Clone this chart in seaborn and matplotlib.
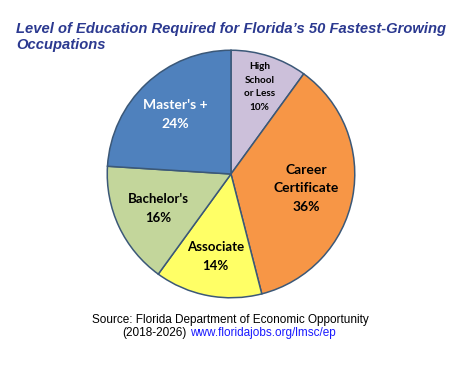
import numpy as np
import matplotlib.pyplot as plt
import seaborn as sns

# education level shares, clockwise from 12 o'clock
levels = ["High\nSchool\nor Less", "Career\nCertificate", "Associate", "Bachelor's", "Master's +"]
shares = [10, 36, 14, 16, 24]
colors = ["#CCC0DA", "#F79646", "#FFFF66", "#C3D69B", "#4F81BD"]
label_colors = ["black", "black", "black", "black", "white"]
label_sizes = [7.2, 10, 9.5, 9.5, 10]
label_dist = [0.74, 0.62, 0.68, 0.65, 0.66]

sns.set_style("white")
plt.rcParams["font.family"] = ["Liberation Sans", "DejaVu Sans"]

fig = plt.figure(figsize=(4.76, 3.69), dpi=100)
W, H = 476, 369
cx, cy, r = 231, 174, 125
ax = fig.add_axes([(cx - r) / W, (H - cy - r) / H, 2 * r / W, 2 * r / H])

wedges, _ = ax.pie(shares, colors=colors, startangle=90, counterclock=False,
                   wedgeprops=dict(edgecolor="#3B5878", linewidth=1.1))
ax.set_xlim(-1.01, 1.01)
ax.set_ylim(-1.01, 1.01)
ax.axis("off")

for w, lab, pct, c, fs, d in zip(wedges, levels, shares, label_colors, label_sizes, label_dist):
    ang = np.deg2rad((w.theta1 + w.theta2) / 2)
    ax.text(d * np.cos(ang), d * np.sin(ang), f"{lab}\n{pct}%", ha="center", va="center",
            color=c, fontsize=fs, fontweight="bold", family=["Lato", "DejaVu Sans"],
            linespacing=1.65)

fig.text(16 / W, 1 - 22 / H,
         "Level of Education Required for Florida\u2019s 50 Fastest-Growing\nOccupations",
         ha="left", va="top", fontsize=10.6, fontweight="bold", fontstyle="italic",
         color="#2B3990", linespacing=1.15)

fig.text(230 / W, 1 - 320 / H, "Source: Florida Department of Economic Opportunity",
         ha="center", va="center", fontsize=8.5, color="black")
fig.text(187 / W, 1 - 333 / H, "(2018-2026)", ha="right", va="center", fontsize=8.5, color="black")
fig.text(190 / W, 1 - 333 / H, "www.floridajobs.org/lmsc/ep", ha="left", va="center",
         fontsize=8.5, color="#1A1AFF")

fig.savefig("out.png", dpi=100)
